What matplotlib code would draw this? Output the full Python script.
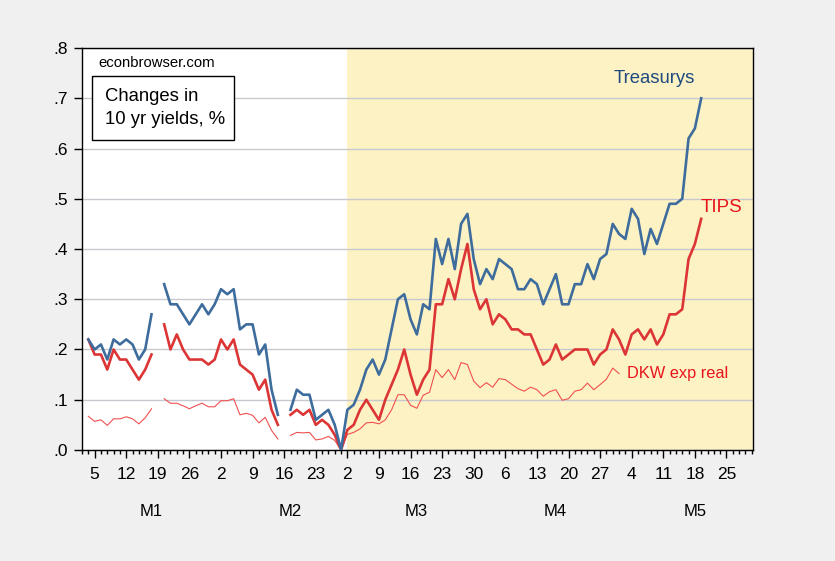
import numpy as np
import pandas as pd
import matplotlib

matplotlib.use('Agg')
import matplotlib.pyplot as plt
from matplotlib.patches import Rectangle
from matplotlib.ticker import FuncFormatter

nan = np.nan

# business days shown on the axis
days = pd.bdate_range('2026-01-01', '2026-05-29')

# changes since Feb 27, starting Jan 2 (holidays are gaps)
treasurys = [
    0.22, 0.20, 0.21, 0.18, 0.22, 0.21, 0.22, 0.21, 0.18, 0.20, 0.27, nan,
    0.33, 0.29, 0.29, 0.27, 0.25, 0.27, 0.29, 0.27, 0.29, 0.32, 0.31, 0.32,
    0.24, 0.25, 0.25, 0.19, 0.21, 0.12, 0.07, nan,
    0.08, 0.12, 0.11, 0.11, 0.06, 0.07, 0.08, 0.05, 0.00,
    0.08, 0.09, 0.12, 0.16, 0.18, 0.15, 0.18, 0.24, 0.30, 0.31, 0.26, 0.23,
    0.29, 0.28, 0.42, 0.37, 0.42, 0.36, 0.45, 0.47, 0.38, 0.33,
    0.36, 0.34, 0.38, 0.37, 0.36, 0.32, 0.32, 0.34, 0.33, 0.29, 0.32, 0.35,
    0.29, 0.29, 0.33, 0.33, 0.37, 0.34, 0.38, 0.39, 0.45, 0.43,
    0.42, 0.48, 0.46, 0.39, 0.44, 0.41, 0.45, 0.49, 0.49, 0.50, 0.62, 0.64,
    0.70,
]
tips = [
    0.22, 0.19, 0.19, 0.16, 0.20, 0.18, 0.18, 0.16, 0.14, 0.16, 0.19, nan,
    0.25, 0.20, 0.23, 0.20, 0.18, 0.18, 0.18, 0.17, 0.18, 0.22, 0.20, 0.22,
    0.17, 0.16, 0.15, 0.12, 0.14, 0.08, 0.05, nan,
    0.07, 0.08, 0.07, 0.08, 0.05, 0.06, 0.05, 0.03, 0.00,
    0.04, 0.05, 0.08, 0.10, 0.08, 0.06, 0.10, 0.13, 0.16, 0.20, 0.15, 0.11,
    0.14, 0.16, 0.29, 0.29, 0.34, 0.30, 0.36, 0.41, 0.32, 0.28,
    0.30, 0.25, 0.27, 0.26, 0.24, 0.24, 0.23, 0.23, 0.20, 0.17, 0.18, 0.21,
    0.18, 0.19, 0.20, 0.20, 0.20, 0.17, 0.19, 0.20, 0.24, 0.22,
    0.19, 0.23, 0.24, 0.22, 0.24, 0.21, 0.23, 0.27, 0.27, 0.28, 0.38, 0.41,
    0.46,
]
dkw_real = [
    0.067, 0.057, 0.060, 0.049, 0.062, 0.062, 0.066, 0.062, 0.052, 0.064,
    0.082, nan,
    0.102, 0.093, 0.093, 0.088, 0.082, 0.088, 0.093, 0.086, 0.086, 0.098,
    0.098, 0.102, 0.070, 0.073, 0.069, 0.054, 0.065, 0.039, 0.022, nan,
    0.029, 0.035, 0.034, 0.035, 0.020, 0.022, 0.027, 0.019, 0.000,
    0.031, 0.035, 0.042, 0.054, 0.055, 0.052, 0.060, 0.080, 0.110, 0.110,
    0.089, 0.083, 0.109, 0.115, 0.160, 0.144, 0.160, 0.140, 0.174, 0.170,
    0.137, 0.124,
    0.134, 0.125, 0.142, 0.140, 0.131, 0.122, 0.117, 0.125, 0.120, 0.107,
    0.116, 0.120, 0.099, 0.102, 0.117, 0.120, 0.133, 0.120, 0.130, 0.141,
    0.163, 0.152,
]
month_labels = ['M1', 'M2', 'M3', 'M4', 'M5']
shade_start = '2026-03-02'

plt.rcParams['font.family'] = ['Liberation Sans', 'DejaVu Sans']

fig = plt.figure(figsize=(8.35, 5.61), dpi=100, facecolor='#f0f0f0')
ax = fig.add_axes([0.0982, 0.1979, 0.8036, 0.7165])
ax.set_facecolor('white')

x_all = np.arange(len(days))
x_t = x_all[1:1 + len(treasurys)]
x_d = x_all[1:1 + len(dkw_real)]

ax.axvspan(list(days).index(pd.Timestamp(shade_start)), len(days) - 0.8,
           color='#fdf2c4', lw=0, zorder=0)

ax.plot(x_d, dkw_real, color='#f05050', lw=0.8, zorder=2)
ax.plot(x_t, tips, color='#dc3535', lw=1.9, zorder=3)
ax.plot(x_t, treasurys, color='#3e6c9c', lw=1.9, zorder=4)

ax.set_xlim(0, len(days) - 0.8)
ax.set_ylim(0, 0.8)

ax.set_yticks(np.arange(0, 0.81, 0.1))
ax.yaxis.set_major_formatter(
    FuncFormatter(lambda v, p: ('%.1f' % v).lstrip('0')))
ax.yaxis.grid(True, color='#c8c8d0', lw=1)
ax.set_axisbelow(True)

mondays = [i for i, d in enumerate(days) if d.weekday() == 0]
ax.set_xticks(mondays)
ax.set_xticklabels([str(days[i].day) for i in mondays])
ax.set_xticks([i for i in x_all if i not in mondays], minor=True)

ax.tick_params(axis='both', which='major', direction='out', length=6,
               width=1, labelsize=12.5, color='black')
ax.tick_params(axis='x', which='major', pad=6)
ax.tick_params(axis='y', which='major', pad=4)
ax.tick_params(axis='x', which='minor', direction='out', length=3, width=1)

for side in ['left', 'bottom', 'top', 'right']:
    ax.spines[side].set_color('black')
    ax.spines[side].set_linewidth(1)

# month labels under the day numbers
month_pos = [10.9, 33.0, 52.9, 74.9, 97.0]
for pos, lab in zip(month_pos, month_labels):
    ax.text(pos, -0.153, lab, transform=ax.get_xaxis_transform(),
            ha='center', va='center', fontsize=12)

ax.text(0.0243, 0.962, 'econbrowser.com', transform=ax.transAxes,
        ha='left', va='center', fontsize=10.7)
ax.add_patch(Rectangle((0.0154, 0.771), 0.2116, 0.159,
                       transform=ax.transAxes, facecolor='white',
                       edgecolor='black', lw=1, zorder=5))
ax.text(0.0343, 0.851, 'Changes in\n10 yr yields, %', transform=ax.transAxes,
        ha='left', va='center', fontsize=13.3, linespacing=1.45, zorder=6)

ax.text(84.2, 0.74, 'Treasurys', color='#1f4a80', fontsize=13.3,
        ha='left', va='center')
ax.text(97.9, 0.483, 'TIPS', color='#e8141c', fontsize=13.6,
        ha='left', va='center')
ax.text(86.3, 0.153, 'DKW exp real', color='#e8141c', fontsize=11.8,
        ha='left', va='center')

fig.savefig('out.png', dpi=100, facecolor=fig.get_facecolor())
